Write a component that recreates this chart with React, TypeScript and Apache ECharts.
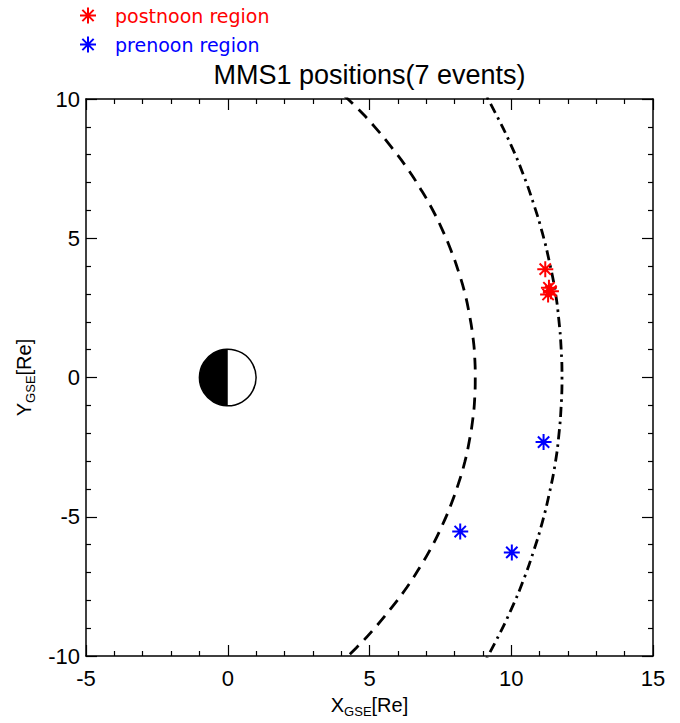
import React, { useEffect, useRef } from "react";
import * as echarts from "echarts";

const FONT = '"Liberation Sans", Arial, Helvetica, sans-serif';
const LEGEND_FONT = '"DejaVu Sans", sans-serif';

// Axis ranges (Earth radii) and major tick step
const xRange: [number, number] = [-5, 15];
const yRange: [number, number] = [-10, 10];
const tickStep = 5;

// MMS1 event positions in GSE, [X, Y] in Re
const postnoonEvents: [number, number][] = [
  [11.2, 3.89],
  [11.33, 3.22],
  [11.4, 3.1],
  [11.3, 2.98],
];
const prenoonEvents: [number, number][] = [
  [11.14, -2.32],
  [10.02, -6.28],
  [8.2, -5.53],
];

// Model magnetopause (dashed) traced along the boundary, [X, Y]
const magnetopause: [number, number][] = [
  [3.79, -10.42], [4.53, -9.71], [5.19, -8.99], [5.78, -8.26], [6.32, -7.53],
  [6.79, -6.79], [7.21, -6.05], [7.57, -5.3], [7.88, -4.55], [8.14, -3.8],
  [8.36, -3.04], [8.52, -2.28], [8.64, -1.52], [8.71, -0.76], [8.73, 0],
  [8.71, 0.76], [8.64, 1.52], [8.52, 2.28], [8.36, 3.04], [8.14, 3.8],
  [7.88, 4.55], [7.57, 5.3], [7.21, 6.05], [6.79, 6.79], [6.32, 7.53],
  [5.78, 8.26], [5.19, 8.99], [4.53, 9.71], [3.79, 10.42],
];

// Model bow shock (dash-dot), [X, Y]
const bowShock: [number, number][] = [
  [8.87, -10.57], [9.46, -9.46], [9.98, -8.37], [10.42, -7.3], [10.79, -6.23],
  [11.1, -5.18], [11.35, -4.13], [11.55, -3.09], [11.68, -2.06], [11.76, -1.03],
  [11.79, 0], [11.76, 1.03], [11.68, 2.06], [11.55, 3.09], [11.35, 4.13],
  [11.1, 5.18], [10.79, 6.23], [10.42, 7.3], [9.98, 8.37], [9.46, 9.46],
  [8.87, 10.57],
];

// Earth: centre X, centre Y, radius (Re)
const earth: [number, number, number][] = [[0, 0, 1]];

const seriesNames = ["postnoon region", "prenoon region"];
const seriesColors = ["#ff0000", "#0000ff"];

const STAR =
  "path://M0,8L16,8M8,0L8,16M2.34,2.34L13.66,13.66M2.34,13.66L13.66,2.34";

function makeAxis(position: string, showLabels: boolean, range: [number, number], margin: number) {
  return {
    type: "value",
    position,
    min: range[0],
    max: range[1],
    interval: tickStep,
    axisLine: { show: true, onZero: false, lineStyle: { color: "#000", width: 1.5 } },
    axisTick: { show: true, inside: true, length: 11, lineStyle: { color: "#000", width: 1.2 } },
    minorTick: { show: true, splitNumber: 5, length: 5, lineStyle: { color: "#000", width: 1.2 } },
    splitLine: { show: false },
    minorSplitLine: { show: false },
    axisLabel: {
      show: showLabels,
      fontSize: 22,
      fontFamily: FONT,
      color: "#000",
      margin,
    },
  };
}

const nameRich = {
  m: { fontSize: 20, fontFamily: FONT, color: "#000", verticalAlign: "bottom", lineHeight: 22 },
  s: { fontSize: 13, fontFamily: FONT, color: "#000", verticalAlign: "bottom", lineHeight: 22, padding: [0, 0, -3, 0] },
};

export default function App() {
  const ref = useRef<HTMLDivElement>(null);

  useEffect(() => {
    const chart = echarts.init(ref.current!, null, { renderer: "svg" });

    const xMain: any = makeAxis("bottom", true, xRange, 11);
    xMain.name = "{m|X}{s|GSE}{m|[Re]}";
    xMain.nameLocation = "middle";
    xMain.nameGap = 37;
    xMain.nameTextStyle = { rich: nameRich };

    const yMain: any = makeAxis("left", true, yRange, 6);
    yMain.name = "{m|Y}{s|GSE}{m|[Re]}";
    yMain.nameLocation = "middle";
    yMain.nameGap = 52;
    yMain.nameTextStyle = { rich: nameRich };

    const option: any = {
      animation: false,
      backgroundColor: "#ffffff",
      grid: { left: 86, top: 99, width: 567, height: 564, containLabel: false },
      xAxis: [xMain, makeAxis("top", false, xRange, 8)],
      yAxis: [yMain, makeAxis("right", false, yRange, 8)],
      legend: {
        orient: "vertical",
        left: 74,
        top: 1,
        itemWidth: 44,
        itemHeight: 16,
        itemGap: 10,
        selectedMode: false,
        textStyle: { fontSize: 19, fontFamily: LEGEND_FONT },
        data: seriesNames.map((n, i) => ({ name: n, textStyle: { color: seriesColors[i] } })),
      },
      graphic: [
        {
          type: "text",
          x: 369.5,
          y: 75,
          style: {
            text: "MMS1 positions(7 events)",
            font: `27px ${FONT}`,
            fill: "#000",
            align: "center",
            verticalAlign: "middle",
            textAlign: "center",
            textVerticalAlign: "middle",
          },
        },
      ],
      series: [
        {
          name: "magnetopause",
          type: "line",
          xAxisIndex: 0,
          yAxisIndex: 0,
          data: magnetopause,
          symbol: "none",
          smooth: true,
          clip: true,
          silent: true,
          lineStyle: { color: "#000", width: 2.8, type: [12, 8] },
          z: 2,
        },
        {
          name: "bow shock",
          type: "line",
          xAxisIndex: 0,
          yAxisIndex: 0,
          data: bowShock,
          symbol: "none",
          smooth: true,
          clip: true,
          silent: true,
          lineStyle: { color: "#000", width: 2.8, type: [10, 5, 2.5, 5] },
          z: 2,
        },
        {
          name: "earth",
          type: "custom",
          xAxisIndex: 0,
          yAxisIndex: 0,
          data: earth,
          silent: true,
          z: 3,
          renderItem: (_params: any, api: any) => {
            const c = api.coord([api.value(0), api.value(1)]);
            const r = api.size([api.value(2), 0])[0];
            return {
              type: "group",
              children: [
                {
                  type: "sector",
                  shape: { cx: c[0], cy: c[1], r0: 0, r, startAngle: Math.PI / 2, endAngle: (Math.PI * 3) / 2, clockwise: true },
                  style: { fill: "#000" },
                },
                {
                  type: "circle",
                  shape: { cx: c[0], cy: c[1], r },
                  style: { fill: "none", stroke: "#000", lineWidth: 1.5 },
                },
              ],
            };
          },
        },
        ...[postnoonEvents, prenoonEvents].map((pts, i) => ({
          name: seriesNames[i],
          type: "scatter",
          xAxisIndex: 0,
          yAxisIndex: 0,
          data: pts,
          symbol: STAR,
          symbolSize: 16,
          itemStyle: { color: seriesColors[i], borderColor: seriesColors[i], borderWidth: 2, opacity: 1 },
          z: 4,
        })),
      ],
    };

    chart.setOption(option);
    return () => chart.dispose();
  }, []);

  return (
    <div
      ref={ref}
      style={{ position: "fixed", left: 0, top: 0, width: 680, height: 723, background: "#fff" }}
    />
  );
}
